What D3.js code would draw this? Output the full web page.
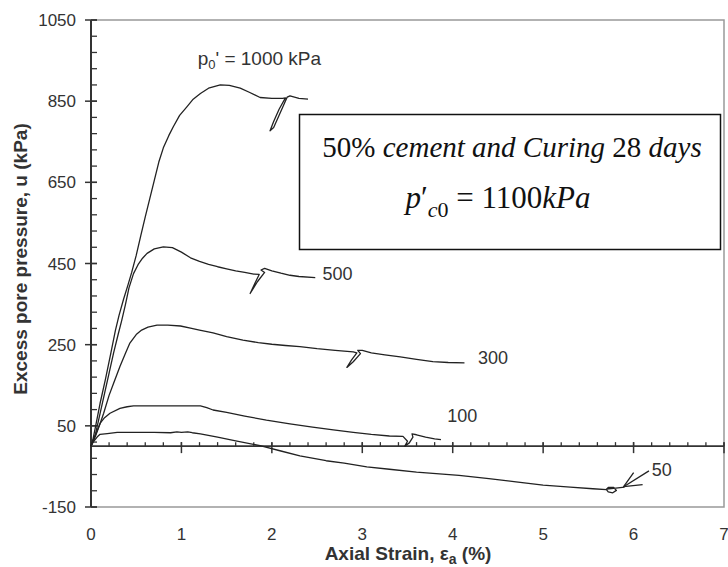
<!DOCTYPE html>
<html>
<head>
<meta charset="utf-8">
<title>Excess pore pressure vs axial strain</title>
<script src="https://d3js.org/d3.v7.min.js"></script>
<style>
body { margin: 0; background: #fff; }
text { font-family: "Liberation Sans", Arial, sans-serif; fill: #333; }
.curve { fill: none; stroke: #222; stroke-width: 1.3px; stroke-linejoin: round; }
.box text { font-family: "Liberation Serif", "Times New Roman", serif; fill: #111; }
</style>
</head>
<body>
<svg width="728" height="567"></svg>
<script>
// axis values
var strainTicks = [0, 1, 2, 3, 4, 5, 6, 7];
var uTicks = [1050, 850, 650, 450, 250, 50, -150];

// [axial strain %, excess pore pressure kPa]
var curve1000 = [[0,0],[0.02,15],[0.05,48],[0.1,105],[0.16,165],[0.22,230],[0.27,285],[0.31,322],[0.36,362],
  [0.41,398],[0.45,428],[0.5,470],[0.55,518],[0.6,565],[0.65,610],[0.7,655],[0.75,700],[0.8,735],[0.86,765],
  [0.91,787],[0.98,815],[1.06,836],[1.13,855],[1.21,869],[1.3,882],[1.43,890],[1.53,889],[1.65,882],[1.75,872],
  [1.87,859],[2.0,857],[2.12,857],[2.15,858],[2.08,830],[2.02,800],[1.98,777],[2.02,785],[2.1,825],[2.17,860],
  [2.2,863],[2.3,857],[2.4,855]];
var curve500 = [[0,0],[0.05,30],[0.1,80],[0.15,130],[0.2,180],[0.25,230],[0.3,275],[0.34,310],[0.38,348],
  [0.42,390],[0.47,425],[0.52,447],[0.57,463],[0.62,475],[0.7,486],[0.8,491],[0.9,489],[1.0,478],[1.1,464],
  [1.2,455],[1.3,448],[1.4,442],[1.5,437],[1.6,432],[1.7,428],[1.8,424],[1.86,423],[1.81,400],[1.76,376],
  [1.84,405],[1.92,428],[1.88,434],[1.92,438],[2.0,432],[2.1,426],[2.2,421],[2.3,418],[2.48,415]];
var curve300 = [[0,0],[0.05,25],[0.1,55],[0.14,81],[0.2,125],[0.25,155],[0.32,196],[0.38,228],[0.43,254],
  [0.5,275],[0.56,286],[0.63,293],[0.73,298],[0.85,298],[0.99,296],[1.1,291],[1.2,286],[1.35,279],[1.5,270],
  [1.68,261],[1.85,255],[2.0,251],[2.15,248],[2.31,245],[2.5,240],[2.7,236],[2.9,232],[2.94,230],[2.88,212],
  [2.83,194],[2.9,208],[2.98,228],[2.95,236],[3.0,236],[3.1,230],[3.25,225],[3.42,220],[3.6,214],[3.78,208],
  [3.95,206],[4.13,205]];
var curve100 = [[0,0],[0.05,28],[0.1,56],[0.15,70],[0.21,81],[0.32,93],[0.4,97],[0.47,99],[0.7,99],[1.0,99],
  [1.21,99],[1.28,95],[1.35,89],[1.5,83],[1.7,74],[1.94,64],[2.2,55],[2.45,47],[2.68,40],[2.9,34],[3.1,29],
  [3.3,25],[3.45,24],[3.5,12],[3.47,0],[3.52,8],[3.56,22],[3.55,30],[3.6,28],[3.7,22],[3.8,18],[3.87,16]];
var curve50 = [[0,0],[0.03,12],[0.07,23],[0.1,29],[0.18,31],[0.29,34],[0.5,34],[0.7,34],[0.88,33],[0.95,35],
  [1.0,34],[1.07,35],[1.12,33],[1.21,30],[1.4,22],[1.6,13],[1.87,1],[2.1,-12],[2.31,-24],[2.6,-36],[2.8,-42],
  [3.05,-51],[3.3,-57],[3.6,-64],[4.07,-72],[4.4,-80],[4.7,-88],[5.0,-96],[5.3,-101],[5.55,-105],[5.7,-107],
  [5.72,-113],[5.77,-115],[5.81,-109],[5.78,-102],[5.72,-102],[5.7,-106],[5.78,-104],[5.9,-101]];

var curves = [curve1000, curve500, curve300, curve100, curve50];
var curveLabels = ["500", "300", "100", "50"];
var labelPos = [[2.56, 409], [4.28, 202], [3.94, 59], [6.2, -74]];
var arrow50 = [[6.17, -61], [5.89, -100]];

var svg = d3.select("svg");
var plotLeft = 91, plotRight = 724, plotTop = 20, plotBottom = 507;

var x = d3.scaleLinear().domain([0, 7]).range([plotLeft, plotRight]);
var y = d3.scaleLinear().domain([-150, 1050]).range([plotBottom, plotTop]);

// frame
svg.append("path")
  .attr("d", "M" + plotLeft + "," + plotTop + "H" + plotRight + "V" + plotBottom + "H" + plotLeft)
  .attr("fill", "none").attr("stroke", "#999").attr("stroke-width", 1.5);

// y axis
var yMinor = d3.range(-150, 1051, 40);
svg.selectAll(".yminor").data(yMinor).enter().append("line")
  .attr("x1", plotLeft).attr("x2", plotLeft + 6)
  .attr("y1", function(d) { return y(d); }).attr("y2", function(d) { return y(d); })
  .attr("stroke", "#333").attr("stroke-width", 1.3);
svg.selectAll(".ymajor").data(uTicks).enter().append("line")
  .attr("x1", plotLeft - 6).attr("x2", plotLeft + 6)
  .attr("y1", function(d) { return y(d); }).attr("y2", function(d) { return y(d); })
  .attr("stroke", "#333").attr("stroke-width", 1.5);
svg.selectAll(".ylab").data(uTicks).enter().append("text")
  .attr("x", plotLeft - 15).attr("y", function(d) { return y(d); })
  .attr("dy", "0.36em").attr("text-anchor", "end")
  .style("font-size", "17px").text(function(d) { return d; });
svg.append("line")
  .attr("x1", plotLeft).attr("x2", plotLeft).attr("y1", plotTop).attr("y2", plotBottom)
  .attr("stroke", "#333").attr("stroke-width", 2);

// x axis drawn along u = 0
var y0 = y(0);
svg.append("line").attr("x1", plotLeft).attr("x2", plotRight).attr("y1", y0).attr("y2", y0)
  .attr("stroke", "#333").attr("stroke-width", 1.8);
svg.selectAll(".xminor").data(d3.range(0, 7.01, 0.2)).enter().append("line")
  .attr("x1", function(d) { return x(d); }).attr("x2", function(d) { return x(d); })
  .attr("y1", y0 - 4).attr("y2", y0)
  .attr("stroke", "#333").attr("stroke-width", 1.3);
svg.selectAll(".xmajor").data(strainTicks).enter().append("line")
  .attr("x1", function(d) { return x(d); }).attr("x2", function(d) { return x(d); })
  .attr("y1", y0 - 4).attr("y2", y0 + 7)
  .attr("stroke", "#333").attr("stroke-width", 1.5);
svg.selectAll(".xlab").data(strainTicks).enter().append("text")
  .attr("x", function(d) { return x(d); }).attr("y", 540)
  .attr("text-anchor", "middle").style("font-size", "17px")
  .text(function(d) { return d; });

// axis titles
var xt = svg.append("text").attr("x", 408).attr("y", 560).attr("text-anchor", "middle")
  .style("font-size", "19px").style("font-weight", "bold");
xt.append("tspan").text("Axial Strain, ε");
xt.append("tspan").attr("dy", 4).style("font-size", "14px").text("a");
xt.append("tspan").attr("dy", -4).text(" (%)");

svg.append("text").attr("transform", "translate(27,259) rotate(-90)")
  .attr("text-anchor", "middle").style("font-size", "19px").style("font-weight", "bold")
  .text("Excess pore pressure, u (kPa)");

// curves
var line = d3.line().x(function(d) { return x(d[0]); }).y(function(d) { return y(d[1]); });
svg.selectAll(".curve").data(curves).enter().append("path")
  .attr("class", "curve").attr("d", line);

// curve labels
svg.selectAll(".clab").data(curveLabels).enter().append("text")
  .attr("x", function(d, i) { return x(labelPos[i][0]); })
  .attr("y", function(d, i) { return y(labelPos[i][1]); })
  .style("font-size", "18px").text(function(d) { return d; });

var pl = svg.append("text").attr("x", x(1.18)).attr("y", y(939)).style("font-size", "19px");
pl.append("tspan").text("p");
pl.append("tspan").attr("dy", 4).style("font-size", "13px").text("0");
pl.append("tspan").attr("dy", -4).text("' = 1000 kPa");

// arrow pointing to the 50 kPa loop
var a1 = arrow50[1];
svg.append("path").attr("class", "curve").attr("d", line(arrow50));
var tx = x(a1[0]), ty = y(a1[1]);
svg.append("path").attr("class", "curve")
  .attr("d", "M" + (tx + 10) + "," + (ty - 14) + "L" + tx + "," + ty + "L" + (tx + 19) + "," + (ty - 2));

// annotation box
var box = svg.append("g").attr("class", "box");
box.append("rect").attr("x", 299.5).attr("y", 114.5).attr("width", 421).attr("height", 135)
  .attr("fill", "#fff").attr("stroke", "#111").attr("stroke-width", 1.5);
var t1 = box.append("text").attr("x", 512).attr("y", 157).attr("text-anchor", "middle")
  .style("font-size", "29px");
t1.append("tspan").text("50% ");
t1.append("tspan").style("font-style", "italic").text("cement and Curing ");
t1.append("tspan").text("28 ");
t1.append("tspan").style("font-style", "italic").text("days");
var t2 = box.append("text").attr("x", 498).attr("y", 208).attr("text-anchor", "middle")
  .style("font-size", "31px");
t2.append("tspan").style("font-style", "italic").text("p");
t2.append("tspan").text("′");
t2.append("tspan").attr("dy", 9).style("font-size", "22px").style("font-style", "italic").text("c");
t2.append("tspan").style("font-size", "22px").text("0");
t2.append("tspan").attr("dy", -9).text(" = 1100");
t2.append("tspan").style("font-style", "italic").text("kPa");
</script>
</body>
</html>
